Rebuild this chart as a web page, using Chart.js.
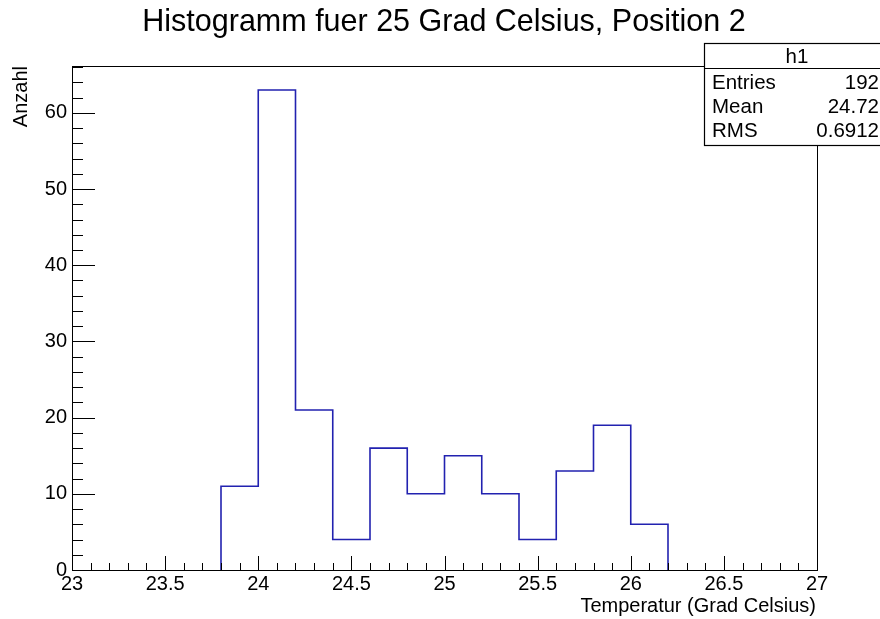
<!DOCTYPE html>
<html>
<head>
<meta charset="utf-8">
<script src="https://cdn.jsdelivr.net/npm/chart.js@4.4.1/dist/chart.umd.min.js"></script>
<style>
html,body{margin:0;padding:0;background:#fff;}
#wrap{width:880px;height:619px;position:relative;}
</style>
</head>
<body>
<div id="wrap"><canvas id="c" width="880" height="619"></canvas></div>
<script>
const binEdges = [23.8, 24.0, 24.2, 24.4, 24.6, 24.8, 25.0, 25.2, 25.4, 25.6, 25.8, 26.0, 26.2];
const binCounts = [11, 63, 21, 4, 16, 10, 15, 10, 4, 13, 19, 6];
const xRange = [23, 27];
const yRange = [0, 66.15];
const statsLabels = ['Entries', 'Mean', 'RMS'];
const statsValues = ['192', '24.72', '0.6912'];
const titleText = 'Histogramm fuer 25 Grad Celsius, Position 2';
const xTitle = 'Temperatur (Grad Celsius)';
const yTitle = 'Anzahl';
const histName = 'h1';

// outline of the histogram, built from bin edges and counts
const pts = [{x: binEdges[0], y: 0}];
for (let i = 0; i < binCounts.length; i++) {
  pts.push({x: binEdges[i], y: binCounts[i]});
  pts.push({x: binEdges[i + 1], y: binCounts[i]});
}
pts.push({x: binEdges[binEdges.length - 1], y: 0});

const FONT = '"Liberation Sans", Arial, sans-serif';

const rootPlugin = {
  id: 'rootStyle',
  afterDatasetsDraw(chart) {
    const ctx = chart.ctx;
    const a = chart.chartArea;
    const xs = chart.scales.x, ys = chart.scales.y;
    ctx.save();
    ctx.strokeStyle = '#000';
    ctx.lineWidth = 1;
    ctx.strokeRect(Math.round(a.left) + 0.5, Math.round(a.top) + 0.5, Math.round(a.right - a.left), Math.round(a.bottom - a.top));
    ctx.beginPath();
    for (let v = 0; v <= yRange[1] + 1e-9; v += 2) {
      const y = Math.round(ys.getPixelForValue(v)) + 0.5;
      const len = (Math.abs(v % 10) < 1e-9) ? 23 : 11;
      ctx.moveTo(a.left, y); ctx.lineTo(a.left + len, y);
    }
    for (let k = 0; k <= 40; k++) {
      const v = xRange[0] + k * 0.1;
      const x = Math.round(xs.getPixelForValue(v)) + 0.5;
      const len = (k % 5 === 0) ? 14 : 7;
      ctx.moveTo(x, a.bottom); ctx.lineTo(x, a.bottom - len);
    }
    ctx.stroke();
    // title
    ctx.fillStyle = '#000';
    ctx.font = '30.5px ' + FONT;
    ctx.textAlign = 'center';
    ctx.textBaseline = 'middle';
    ctx.fillText(titleText, 444, 23);
    // axis titles
    ctx.font = '20px ' + FONT;
    ctx.textAlign = 'right';
    ctx.fillText(xTitle, a.right - 1, 606);
    ctx.save();
    ctx.translate(21, a.top);
    ctx.rotate(-Math.PI / 2);
    ctx.textAlign = 'right';
    ctx.fillText(yTitle, 0, 0);
    ctx.restore();
    // stats box
    const bx = 704.5, by = 43.5, bw = 180, bh = 102, hh = 25;
    ctx.fillStyle = '#fff';
    ctx.fillRect(bx, by, bw, bh);
    ctx.lineWidth = 1.2;
    ctx.strokeRect(bx, by, bw, bh);
    ctx.beginPath(); ctx.moveTo(bx, by + hh); ctx.lineTo(bx + bw, by + hh); ctx.stroke();
    ctx.fillStyle = '#000';
    ctx.font = '20.5px ' + FONT;
    ctx.textAlign = 'center';
    ctx.fillText(histName, 797, 57);
    for (let i = 0; i < statsLabels.length; i++) {
      const y = 83 + i * 24;
      ctx.textAlign = 'left';
      ctx.fillText(statsLabels[i], 712, y);
      ctx.textAlign = 'right';
      ctx.fillText(statsValues[i], 879, y);
    }
    ctx.restore();
  }
};

new Chart(document.getElementById('c'), {
  type: 'line',
  data: {
    datasets: [{
      data: pts,
      borderColor: '#2222b0',
      borderWidth: 1.6,
      pointRadius: 0,
      tension: 0,
      fill: false
    }]
  },
  options: {
    responsive: false,
    animation: false,
    devicePixelRatio: 1,
    layout: {padding: {top: 66, right: 63, left: 0, bottom: 0}},
    plugins: {legend: {display: false}, tooltip: {enabled: false}, title: {display: false}},
    scales: {
      x: {
        type: 'linear', min: xRange[0], max: xRange[1],
        grid: {display: false, drawTicks: false}, border: {display: false},
        ticks: {stepSize: 0.5, color: '#000', font: {family: FONT, size: 20}, padding: 2, maxRotation: 0,
          callback: v => String(Math.round(v * 10) / 10)},
        afterFit(s) { s.height = 49; }
      },
      y: {
        type: 'linear', min: yRange[0], max: yRange[1],
        grid: {display: false, drawTicks: false}, border: {display: false},
        ticks: {stepSize: 10, includeBounds: false, color: '#000', font: {family: FONT, size: 20}, padding: 5},
        afterFit(s) { s.width = 72; }
      }
    }
  },
  plugins: [rootPlugin]
});
</script>
</body>
</html>
